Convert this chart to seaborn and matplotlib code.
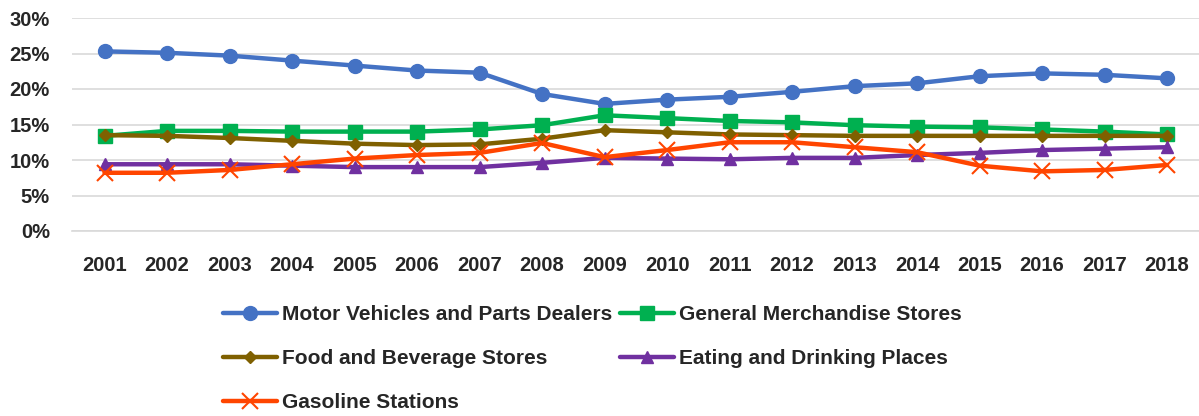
import matplotlib
matplotlib.use("Agg")
import matplotlib.pyplot as plt
import seaborn as sns
import pandas as pd
from matplotlib.ticker import PercentFormatter

years = [str(y) for y in range(2001, 2019)]
motor = [25.3, 25.1, 24.7, 24.0, 23.3, 22.6, 22.3, 19.3, 17.9, 18.5, 18.9, 19.6, 20.4, 20.8, 21.8, 22.2, 22.0, 21.5]
general = [13.4, 14.1, 14.1, 14.0, 14.0, 14.0, 14.3, 14.9, 16.3, 15.9, 15.5, 15.3, 14.9, 14.7, 14.6, 14.3, 14.0, 13.6]
food = [13.5, 13.4, 13.1, 12.7, 12.3, 12.1, 12.2, 13.0, 14.2, 13.9, 13.6, 13.5, 13.4, 13.4, 13.4, 13.4, 13.4, 13.4]
eating = [9.4, 9.4, 9.4, 9.2, 9.0, 9.0, 9.0, 9.6, 10.3, 10.2, 10.1, 10.3, 10.3, 10.7, 11.0, 11.4, 11.6, 11.8]
gasoline = [8.2, 8.2, 8.6, 9.4, 10.2, 10.7, 11.0, 12.4, 10.4, 11.4, 12.5, 12.5, 11.8, 11.1, 9.2, 8.4, 8.6, 9.3]

series_names = ["Motor Vehicles and Parts Dealers", "General Merchandise Stores",
                "Food and Beverage Stores", "Eating and Drinking Places", "Gasoline Stations"]
series_vals = [motor, general, food, eating, gasoline]
colors = ["#4472C4", "#00B050", "#7F6000", "#7030A0", "#FF4500"]
markers = ["o", "s", "D", "^", "X"]

rows = []
for name, vals in zip(series_names, series_vals):
    for i, (y, v) in enumerate(zip(years, vals)):
        rows.append({"idx": i, "year": y, "share": v / 100.0, "series": name})
df = pd.DataFrame(rows)

sns.set_style("white")
plt.rcParams["font.family"] = ["Liberation Sans", "DejaVu Sans"]
plt.rcParams["font.weight"] = "bold"

fig = plt.figure(figsize=(11.99, 4.16), dpi=100)
ax = fig.add_axes([72 / 1199, 1 - 231 / 416, (1199 - 72) / 1199, (231 - 18) / 416])

sns.lineplot(data=df, x="idx", y="share", hue="series", style="series",
             hue_order=series_names, style_order=series_names,
             palette=colors, markers=markers, dashes=False,
             linewidth=3.2, markersize=10, ax=ax)

def style_line(line, mk, col):
    line.set_markeredgecolor(col)
    line.set_markerfacecolor(col)
    if mk == "X":
        line.set_marker("x")
        line.set_markeredgewidth(1.5)
        line.set_markersize(11)
    elif mk == "D":
        line.set_markersize(6)
        line.set_markeredgewidth(1)
    elif mk == "^":
        line.set_markersize(8)
        line.set_markeredgewidth(1)
    else:
        line.set_markeredgewidth(1)

for line, mk, col in zip(ax.lines, markers, colors):
    style_line(line, mk, col)

ax.set_ylim(0, 0.30)
ax.set_xlim(-0.52, 17.51)
ax.set_yticks([0, 0.05, 0.10, 0.15, 0.20, 0.25, 0.30])
ax.yaxis.set_major_formatter(PercentFormatter(1.0, decimals=0))
ax.set_xticks(range(len(years)))
ax.set_xticklabels(years)
ax.grid(axis="y", color="#D9D9D9", linewidth=1.2)
ax.set_axisbelow(True)
for s in ax.spines.values():
    s.set_visible(False)
ax.spines["bottom"].set_visible(True)
ax.spines["bottom"].set_color("#D9D9D9")
ax.spines["bottom"].set_linewidth(1.2)
ax.tick_params(axis="both", length=0, labelsize=14.5)
ax.tick_params(axis="y", pad=16)
ax.tick_params(axis="x", pad=18)
for t in ax.get_xticklabels() + ax.get_yticklabels():
    t.set_fontweight("bold")
ax.set_xlabel("")
ax.set_ylabel("")

handles, labels = ax.get_legend_handles_labels()
ax.get_legend().remove()
for h, mk, col in zip(handles, markers, colors):
    style_line(h, mk, col)
order = [0, 2, 4, 1, 3]
leg = fig.legend([handles[i] for i in order], [labels[i] for i in order],
                 ncol=2, loc="upper left", bbox_to_anchor=(223 / 1199, 1 - 305 / 416),
                 frameon=False, fontsize=15, handlelength=2.6, handletextpad=0.25,
                 columnspacing=0.35, labelspacing=1.2, borderaxespad=0, borderpad=0)
for t in leg.get_texts():
    t.set_fontweight("bold")

fig.savefig("out.png", dpi=100)
